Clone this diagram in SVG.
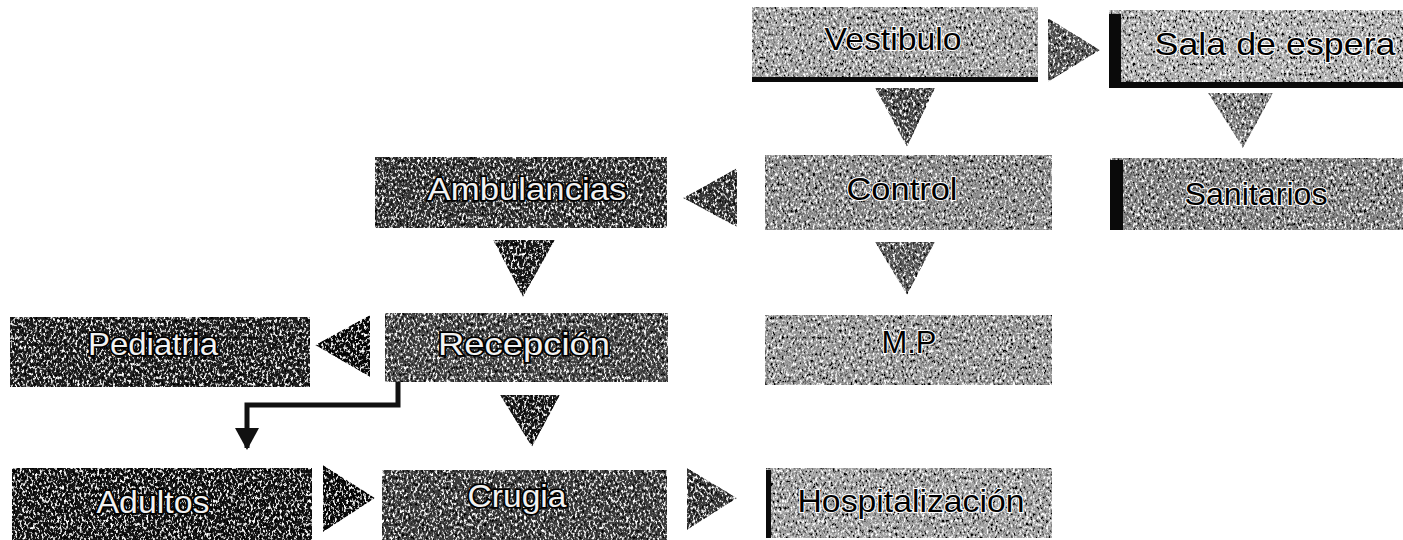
<svg xmlns="http://www.w3.org/2000/svg" width="1403" height="540" viewBox="0 0 1403 540">
<defs>
  <filter id="tex" x="0" y="0" width="1" height="1">
    <feTurbulence type="fractalNoise" baseFrequency="0.45 0.3" numOctaves="4" seed="7" result="noise"/>
    <feColorMatrix in="noise" type="matrix" values="0 0 0 0 1  0 0 0 0 1  0 0 0 0 1  5 0 0 0 -2.7" result="light"/>
    <feColorMatrix in="noise" type="matrix" values="0 0 0 0 0  0 0 0 0 0  0 0 0 0 0  -5 0 0 0 2.3" result="dark"/>
    <feMerge result="m"><feMergeNode in="SourceGraphic"/><feMergeNode in="light"/><feMergeNode in="dark"/></feMerge>
    <feComposite in="m" in2="SourceGraphic" operator="in"/>
  </filter>
  <marker id="ah" viewBox="0 0 22 24" refX="20" refY="12" markerWidth="22" markerHeight="24" markerUnits="userSpaceOnUse" orient="auto">
    <path d="M0,0 L22,12 L0,24 Z" fill="#111"/>
  </marker>
  <style>
    .box { filter: url(#tex); }
    .tri { filter: url(#tex); }
    .sh { fill: #0a0a0a; }
    .lt { font-family: "Liberation Sans", Arial, sans-serif; font-size: 32px; fill: #000; text-anchor: middle; stroke: #fff; stroke-width: 2; paint-order: stroke; }
    .dk { font-family: "Liberation Sans", Arial, sans-serif; font-size: 32px; fill: #f2f2f2; text-anchor: middle; stroke: #000; stroke-width: 3.5; paint-order: stroke; }
  </style>
</defs>
<rect width="1403" height="540" fill="#fff"/>

<g id="vestibulo">
  <rect class="box" x="752" y="7" width="286" height="75" fill="#a4a4a4"/>
  <rect class="sh" x="752" y="77" width="286" height="5"/>
  <text class="lt" x="893" y="50" textLength="137" lengthAdjust="spacingAndGlyphs">Vestibulo</text>
</g>
<g id="sala-de-espera">
  <rect class="box" x="1109" y="10" width="294" height="78" fill="#b2b2b2"/>
  <rect class="sh" x="1109" y="14" width="12" height="74"/>
  <rect class="sh" x="1109" y="82" width="294" height="6"/>
  <text class="lt" x="1275" y="55" textLength="241" lengthAdjust="spacingAndGlyphs">Sala de espera</text>
</g>
<g id="control">
  <rect class="box" x="765" y="155" width="287" height="75" fill="#8e8e8e"/>
  <text class="lt" x="902" y="200" textLength="111" lengthAdjust="spacingAndGlyphs">Control</text>
</g>
<g id="sanitarios">
  <rect class="box" x="1110" y="158" width="293" height="72" fill="#858585"/>
  <rect class="sh" x="1110" y="160" width="13" height="70"/>
  <text class="lt" x="1256" y="205" textLength="143" lengthAdjust="spacingAndGlyphs">Sanitarios</text>
</g>
<g id="ambulancias">
  <rect class="box" x="375" y="157" width="292" height="71" fill="#383838"/>
  <text class="dk" x="527" y="200" textLength="199" lengthAdjust="spacingAndGlyphs">Ambulancias</text>
</g>
<g id="pediatria">
  <rect class="box" x="10" y="317" width="300" height="70" fill="#202020"/>
  <text class="dk" x="153" y="355" textLength="130" lengthAdjust="spacingAndGlyphs">Pediatria</text>
</g>
<g id="recepcion">
  <rect class="box" x="385" y="313" width="283" height="69" fill="#4a4a4a"/>
  <text class="dk" x="524" y="355" textLength="172" lengthAdjust="spacingAndGlyphs">Recepción</text>
</g>
<g id="mp">
  <rect class="box" x="765" y="315" width="287" height="70" fill="#9a9a9a"/>
  <text class="lt" x="909" y="353" textLength="55" lengthAdjust="spacingAndGlyphs">M.P</text>
</g>
<g id="adultos">
  <rect class="box" x="12" y="468" width="300" height="72" fill="#141414"/>
  <text class="dk" x="153" y="513" textLength="113" lengthAdjust="spacingAndGlyphs">Adultos</text>
</g>
<g id="crugia">
  <rect class="box" x="382" y="470" width="285" height="70" fill="#404040"/>
  <text class="dk" x="517" y="507" textLength="99" lengthAdjust="spacingAndGlyphs">Crugia</text>
</g>
<g id="hospitalizacion">
  <rect class="box" x="766" y="468" width="286" height="70" fill="#a2a2a2"/>
  <rect class="sh" x="766" y="470" width="5" height="68"/>
  <text class="lt" x="911" y="512" textLength="227" lengthAdjust="spacingAndGlyphs">Hospitalización</text>
</g>

<g id="connectors">
  <polygon class="tri" points="1048,18 1100,50 1048,82" fill="#5a5a5a"/>
  <polygon class="tri" points="875,88 935,88 907,147" fill="#505050"/>
  <polygon class="tri" points="1208,93 1273,93 1243,148" fill="#858585"/>
  <polygon class="tri" points="737,168 737,227 683,198" fill="#383838"/>
  <polygon class="tri" points="493,240 555,240 523,297" fill="#1e1e1e"/>
  <polygon class="tri" points="875,242 935,242 907,295" fill="#5e5e5e"/>
  <polygon class="tri" points="370,315 370,377 315,345" fill="#111"/>
  <polygon class="tri" points="500,395 560,395 532,447" fill="#1e1e1e"/>
  <polygon class="tri" points="323,465 375,498 323,532" fill="#111"/>
  <polygon class="tri" points="687,468 737,498 687,530" fill="#3a3a3a"/>
  <polyline points="398,382 398,405 247,405 247,448" fill="none" stroke="#111" stroke-width="5" marker-end="url(#ah)"/>
</g>
</svg>
